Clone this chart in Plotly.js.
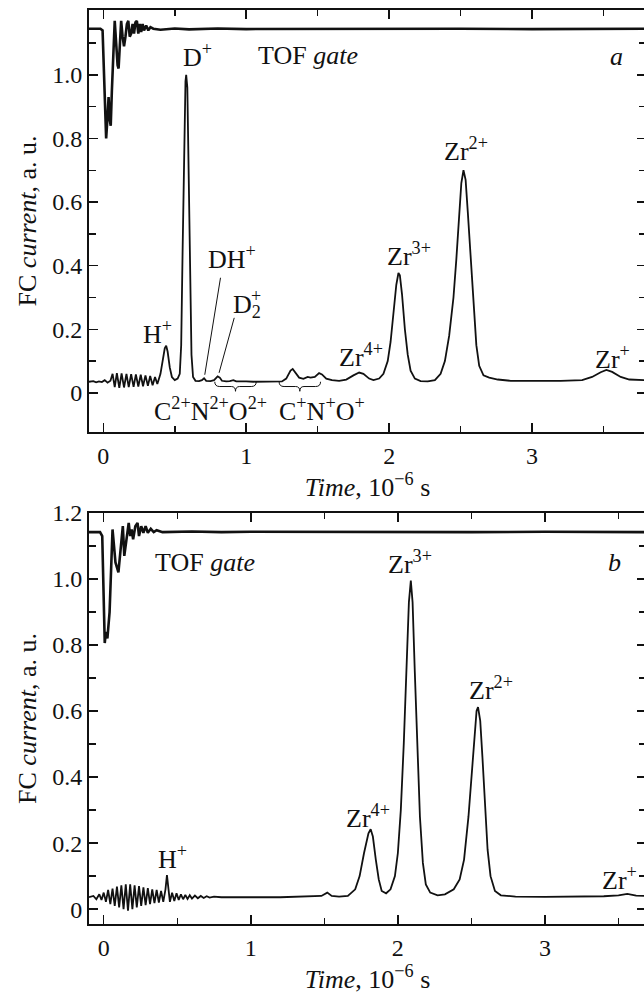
<!DOCTYPE html>
<html><head><meta charset="utf-8">
<script src="https://cdn.plot.ly/plotly-3.0.1.min.js"></script>
<style>html,body{margin:0;padding:0;overflow:hidden;background:#fff}</style>
</head><body><div id="chart" style="width:650px;height:996px"></div>
<script>
// ---------- Panel a : FC current ----------
const aFC_x = [-0.10,-0.07,-0.05,-0.03,-0.01,0.01,0.03,0.05,
 0.065,0.08,0.095,0.112,0.128,0.145,0.162,0.178,0.195,0.212,0.228,0.245,0.262,0.278,0.295,0.312,0.328,0.345,0.362,0.378,0.39,
 0.40,0.415,0.43,0.44,0.45,0.465,0.48,0.50,0.52,0.535,
 0.545,0.555,0.565,0.575,0.58,0.588,0.597,0.607,0.617,0.628,0.645,0.67,0.69,0.705,0.72,0.75,0.775,0.80,0.815,0.83,0.86,0.885,0.91,0.93,0.96,
 1.0,1.05,1.1,1.15,1.2,1.25,1.28,1.31,1.325,1.34,1.37,1.40,1.43,1.45,1.48,1.51,1.53,1.56,1.60,1.65,1.70,1.75,1.79,1.82,1.86,1.89,1.93,1.96,1.99,
 2.01,2.03,2.05,2.065,2.075,2.09,2.11,2.13,2.15,2.18,2.22,2.27,2.32,2.36,2.39,2.42,2.45,2.47,2.49,2.505,2.52,2.535,2.55,2.57,2.59,2.61,2.63,2.66,2.70,2.76,2.85,
 3.0,3.2,3.35,3.42,3.48,3.52,3.56,3.62,3.68,3.80];
const aFC_y = [0.035,0.037,0.033,0.036,0.034,0.040,0.032,0.038,
 0.060,0.018,0.062,0.016,0.061,0.017,0.060,0.018,0.059,0.019,0.058,0.020,0.057,0.021,0.055,0.022,0.053,0.024,0.050,0.028,0.045,
 0.060,0.100,0.140,0.148,0.130,0.080,0.050,0.040,0.045,0.060,
 0.150,0.450,0.800,0.980,1.000,0.960,0.700,0.350,0.120,0.050,0.038,0.037,0.040,0.046,0.038,0.037,0.040,0.052,0.048,0.038,0.036,0.037,0.040,0.036,0.035,
 0.036,0.035,0.035,0.034,0.035,0.036,0.045,0.070,0.075,0.065,0.048,0.044,0.050,0.048,0.050,0.062,0.058,0.045,0.040,0.038,0.042,0.055,0.064,0.060,0.045,0.040,0.045,0.060,0.100,
 0.160,0.250,0.340,0.377,0.370,0.310,0.200,0.120,0.070,0.045,0.037,0.036,0.040,0.060,0.100,0.180,0.300,0.420,0.560,0.660,0.700,0.670,0.570,0.420,0.270,0.150,0.085,0.055,0.048,0.042,0.038,
 0.037,0.038,0.040,0.050,0.065,0.072,0.066,0.050,0.042,0.040];

// ---------- Panel a : TOF gate ----------
const aTOF_x = [-0.10,-0.02,-0.005,0.005,0.015,0.02,0.03,0.037,0.045,0.052,0.06,0.07,0.08,0.09,0.10,0.107,0.115,0.125,0.135,0.145,0.155,0.165,0.175,0.185,0.195,0.205,0.215,0.225,0.235,0.245,0.255,0.265,0.275,0.285,0.30,0.315,0.33,0.35,0.40,0.5,0.6,0.8,1.0,1.5,2.0,2.5,3.0,3.5,3.80];
const aTOF_y = [1.145,1.145,1.140,1.000,0.820,0.800,0.870,0.930,0.860,0.840,0.950,1.080,1.170,1.100,1.030,1.020,1.100,1.170,1.120,1.090,1.120,1.160,1.170,1.120,1.130,1.160,1.130,1.165,1.170,1.130,1.160,1.135,1.160,1.140,1.155,1.140,1.150,1.145,1.142,1.146,1.143,1.146,1.144,1.145,1.144,1.145,1.144,1.145,1.145];

// ---------- Panel b : FC current ----------
const bFC_x = [-0.10,-0.07,-0.05,-0.03,-0.015,0.0,0.015,0.03,0.045,0.06,0.075,0.09,0.105,0.12,0.135,0.15,0.165,0.18,0.195,0.21,0.225,0.24,0.255,0.27,0.285,0.30,0.315,0.33,0.345,0.36,0.375,0.39,0.405,0.42,0.43,0.44,0.45,0.465,0.48,0.495,0.51,0.525,0.54,0.555,0.57,0.585,0.60,0.62,0.64,0.66,0.68,0.70,0.72,0.75,0.80,0.9,
 1.0,1.1,1.2,1.3,1.4,1.48,1.52,1.55,1.60,1.66,1.71,1.74,1.77,1.80,1.815,1.83,1.85,1.87,1.89,1.92,1.95,1.98,
 2.00,2.02,2.04,2.06,2.075,2.088,2.10,2.115,2.13,2.15,2.17,2.19,2.22,2.27,2.32,2.38,2.42,2.45,2.48,2.50,2.52,2.535,2.545,2.56,2.575,2.59,2.61,2.63,2.66,2.70,2.8,
 3.0,3.2,3.4,3.5,3.56,3.62,3.70];
const bFC_y = [0.036,0.040,0.030,0.045,0.028,0.050,0.022,0.058,0.015,0.062,0.010,0.068,0.005,0.072,0.000,0.075,-0.005,0.075,0.000,0.072,0.005,0.070,0.010,0.066,0.012,0.064,0.015,0.060,0.018,0.058,0.020,0.055,0.022,0.060,0.103,0.060,0.022,0.050,0.025,0.048,0.028,0.045,0.030,0.043,0.031,0.042,0.032,0.041,0.033,0.040,0.034,0.039,0.035,0.038,0.036,0.036,
 0.035,0.036,0.036,0.037,0.038,0.040,0.050,0.040,0.038,0.040,0.060,0.100,0.170,0.230,0.242,0.220,0.150,0.090,0.055,0.048,0.060,0.100,
 0.170,0.300,0.500,0.740,0.930,0.995,0.930,0.720,0.500,0.280,0.140,0.075,0.050,0.042,0.045,0.060,0.090,0.150,0.280,0.400,0.530,0.600,0.612,0.570,0.460,0.320,0.180,0.100,0.055,0.042,0.038,
 0.037,0.037,0.039,0.042,0.046,0.041,0.040];

// ---------- Panel b : TOF gate ----------
const bTOF_x = [-0.10,-0.025,-0.01,0.0,0.007,0.015,0.025,0.04,0.05,0.06,0.07,0.08,0.10,0.115,0.13,0.14,0.155,0.17,0.18,0.19,0.20,0.215,0.23,0.24,0.255,0.27,0.285,0.30,0.32,0.34,0.36,0.4,0.6,0.8,1.0,1.5,2.0,2.5,3.0,3.5,3.70];
const bTOF_y = [1.142,1.142,1.130,0.950,0.806,0.840,0.820,0.900,1.000,1.150,1.100,1.050,1.020,1.100,1.160,1.070,1.120,1.170,1.130,1.150,1.120,1.160,1.170,1.130,1.160,1.140,1.160,1.140,1.152,1.142,1.148,1.142,1.144,1.142,1.143,1.142,1.143,1.142,1.143,1.142,1.142];

// ---------- Axis ticks ----------
const xTickVals = [0,1,2,3];
const xTickText = ['0','1','2','3'];
const xMinorVals = [0.5,1.5,2.5,3.5];
const yaTickVals = [0,0.2,0.4,0.6,0.8,1.0];
const yaTickText = ['0','0.2','0.4','0.6','0.8','1.0'];
const yaMinorVals = [0.1,0.3,0.5,0.7,0.9,1.1];
const ybTickVals = [0,0.2,0.4,0.6,0.8,1.0,1.2];
const ybTickText = ['0','0.2','0.4','0.6','0.8','1.0','1.2'];
const ybMinorVals = [0.1,0.3,0.5,0.7,0.9,1.1];

// ---------- Labels (text, x, y, size) ----------
const labA_text = ['TOF <i>gate</i>','<i>a</i>','D<sup>+</sup>','H<sup>+</sup>','DH<sup>+</sup>','D<sub>2</sub>','+',
  'C<sup>2+</sup>N<sup>2+</sup>O<sup>2+</sup>','C<sup>+</sup>N<sup>+</sup>O<sup>+</sup>','Zr<sup>4+</sup>','Zr<sup>3+</sup>','Zr<sup>2+</sup>','Zr<sup>+</sup>'];
const labA_x = [1.43,3.59,0.657,0.378,0.902,1.005,1.065,0.748,1.53,1.80,2.14,2.54,3.56];
const labA_y = [1.06,1.057,1.06,0.19,0.425,0.272,0.305,-0.053,-0.053,0.116,0.434,0.764,0.11];
const labA_size = [26,26,26,26,26,26,18,26,26,26,26,26,26];
const labB_text = ['TOF <i>gate</i>','<i>b</i>','H<sup>+</sup>','Zr<sup>4+</sup>','Zr<sup>3+</sup>','Zr<sup>2+</sup>','Zr<sup>+</sup>'];
const labB_x = [0.69,3.47,0.47,1.80,2.08,2.63,3.51];
const labB_y = [1.05,1.05,0.155,0.28,1.05,0.667,0.094];

// leader lines (panel a): x0,y0 -> x1,y1
const lead_x0 = [0.82,0.916], lead_y0 = [0.362,0.236], lead_x1 = [0.71,0.81], lead_y1 = [0.057,0.063];
// braces (panel a)
const brace_x0 = [0.78,1.23], brace_x1 = [1.07,1.52];
const brace_top = 0.035, brace_mid = 0.02, brace_bot = 0.005;

const FONT = 'Liberation Serif, Times New Roman, serif';

const traces = [
  {x:aFC_x,y:aFC_y,xaxis:'x',yaxis:'y',mode:'lines',line:{color:'#111',width:1.8},hoverinfo:'skip'},
  {x:aTOF_x,y:aTOF_y,xaxis:'x',yaxis:'y',mode:'lines',line:{color:'#111',width:2.6},hoverinfo:'skip'},
  {x:bFC_x,y:bFC_y,xaxis:'x2',yaxis:'y2',mode:'lines',line:{color:'#111',width:1.8},hoverinfo:'skip'},
  {x:bTOF_x,y:bTOF_y,xaxis:'x2',yaxis:'y2',mode:'lines',line:{color:'#111',width:2.6},hoverinfo:'skip'}
];

function xax(range, anchor){
  return {domain:[0,1],anchor:anchor,range:range,showgrid:false,zeroline:false,
    showline:true,linecolor:'#111',linewidth:2,mirror:'ticks',
    ticks:'inside',ticklen:9,tickwidth:1.5,tickcolor:'#111',
    tickmode:'array',tickvals:xTickVals,ticktext:xTickText,ticklabelstandoff:1,
    minor:{tickmode:'array',tickvals:xMinorVals,ticks:'inside',ticklen:6,tickwidth:1.5,tickcolor:'#111'},
    tickfont:{family:FONT,size:24,color:'#111'},
    title:{text:'<i>Time</i>, 10<sup>−6</sup> s',font:{family:FONT,size:26,color:'#111'},standoff:4}};
}
function yax(range, domain, anchor, tv, tt, mv){
  return {domain:domain,anchor:anchor,range:range,showgrid:false,zeroline:false,
    showline:true,linecolor:'#111',linewidth:2,mirror:'ticks',
    ticks:'inside',ticklen:9,tickwidth:1.5,tickcolor:'#111',
    tickmode:'array',tickvals:tv,ticktext:tt,ticklabelstandoff:0,
    minor:{tickmode:'array',tickvals:mv,ticks:'inside',ticklen:7,tickwidth:1.5,tickcolor:'#111'},
    tickfont:{family:FONT,size:24,color:'#111'},
    title:{text:'FC <i>current</i>, a. u.',font:{family:FONT,size:26,color:'#111'},standoff:8}};
}

const annotations = [];
labA_text.forEach((t,i)=>annotations.push({text:t,x:labA_x[i],y:labA_y[i],xref:'x',yref:'y',showarrow:false,font:{family:FONT,size:labA_size[i],color:'#111'},xanchor:'center',yanchor:'middle'}));
labB_text.forEach((t,i)=>annotations.push({text:t,x:labB_x[i],y:labB_y[i],xref:'x2',yref:'y2',showarrow:false,font:{family:FONT,size:26,color:'#111'},xanchor:'center',yanchor:'middle'}));

const shapes = [];
lead_x0.forEach((v,i)=>shapes.push({type:'line',xref:'x',yref:'y',x0:v,y0:lead_y0[i],x1:lead_x1[i],y1:lead_y1[i],line:{color:'#111',width:1}}));
brace_x0.forEach((a,i)=>{
  const b = brace_x1[i], c = (a+b)/2, w = (b-a);
  const p = `M ${a},${brace_top} Q ${a},${brace_mid} ${a+w*0.12},${brace_mid} L ${c-w*0.1},${brace_mid} Q ${c},${brace_mid} ${c},${brace_bot} Q ${c},${brace_mid} ${c+w*0.1},${brace_mid} L ${b-w*0.12},${brace_mid} Q ${b},${brace_mid} ${b},${brace_top}`;
  shapes.push({type:'path',xref:'x',yref:'y',path:p,line:{color:'#111',width:1}});
});

const layout = {
  width:650,height:996,margin:{l:89,r:4,t:10,b:72},
  paper_bgcolor:'#fff',plot_bgcolor:'#fff',showlegend:false,
  font:{family:FONT,color:'#111'},
  xaxis:xax([-0.1,3.797],'y'),
  yaxis:yax([-0.123,1.204],[0.5383,1],'x',yaTickVals,yaTickText,yaMinorVals),
  xaxis2:xax([-0.1,3.687],'y2'),
  yaxis2:yax([-0.045,1.2],[0,0.4497],'x2',ybTickVals,ybTickText,ybMinorVals),
  annotations:annotations,shapes:shapes
};
Plotly.newPlot('chart',traces,layout,{staticPlot:true,displayModeBar:false});
</script></body></html>
